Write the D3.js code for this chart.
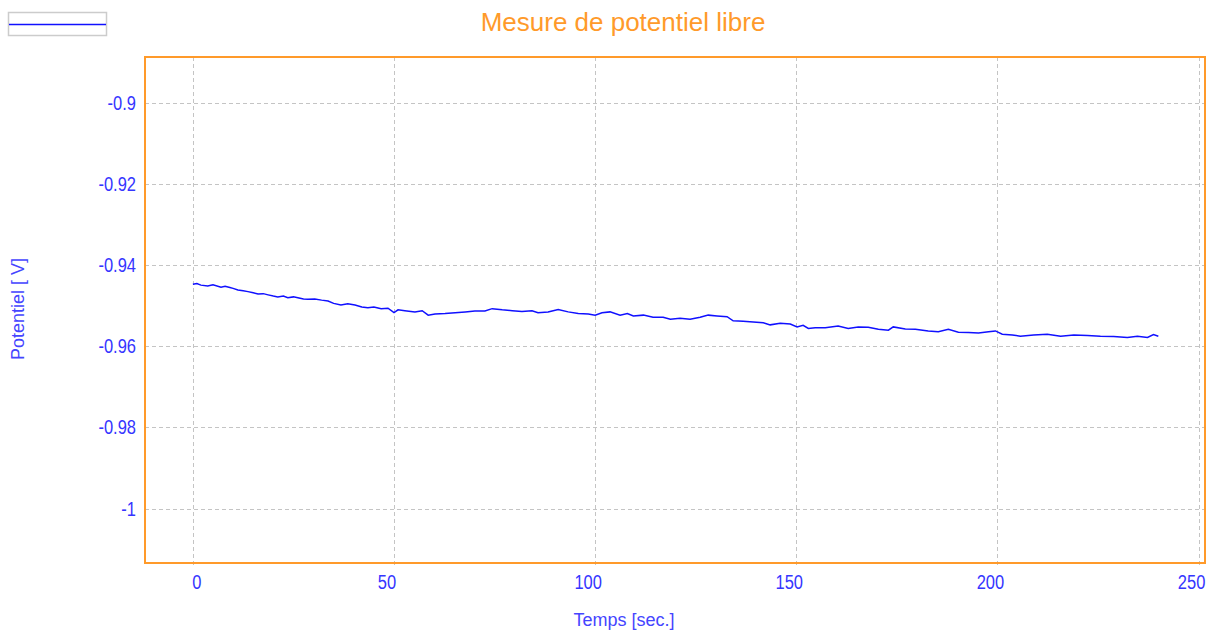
<!DOCTYPE html>
<html>
<head>
<meta charset="utf-8">
<script src="https://cdn.jsdelivr.net/npm/d3@7"></script>
<style>
    body { margin: 0; background: #ffffff; }
    svg { display: block; }
</style>
</head>
<body>
<div id="graphique"></div>
<script>
// ===============================
// Données de la mesure
// ===============================
const temps = [
    0, 1, 2, 3.7, 5, 7, 8, 9.2, 10, 11.2,
    12.5, 13.7, 15, 16.2, 17.5, 18.7, 20, 21.1, 22.5, 23.6,
    25, 26.1, 27.5, 28.6, 30.3, 32, 33.6, 35, 36.8, 38.5,
    40.3, 42, 43.5, 45, 46.8, 48.5, 50, 51, 52.7, 55.2,
    57, 58.5, 60.2, 62.7, 65.2, 67.7, 70.1, 72.6, 74.4, 76.9,
    79.4, 81.8, 84.3, 85.8, 88.3, 90.8, 93.3, 95.8, 98.3, 100,
    101.7, 103.7, 106.2, 108, 109.5, 112, 114.4, 116.9, 118.7, 121.1,
    123.6, 126.1, 128.1, 130.3, 132.8, 134.3, 136.8, 139.3, 141.8, 143.5,
    146, 148.5, 150.2, 151.7, 153, 154.7, 157.2, 160.4, 162.9, 165.4,
    167.9, 170.4, 172.9, 174.1, 177.1, 179.6, 182.8, 185.3, 187.8, 190.3,
    192.8, 195.3, 197.8, 199.5, 201.2, 203.7, 205.7, 209, 212.4, 215.7,
    219, 222.4, 225.6, 228.9, 232.3, 234.8, 237.3, 238.8, 240
];
const potentiel = [
    -0.9447, -0.9445, -0.9449, -0.9451, -0.9448, -0.9454, -0.9452, -0.9455, -0.9457, -0.9461,
    -0.9463, -0.9465, -0.9468, -0.9471, -0.9470, -0.9473, -0.9476, -0.9478, -0.9476, -0.9480,
    -0.9478, -0.9480, -0.9483, -0.9484, -0.9483, -0.9486, -0.9488, -0.9494, -0.9498, -0.9495,
    -0.9498, -0.9503, -0.9505, -0.9503, -0.9507, -0.9506, -0.9517, -0.9510, -0.9512, -0.9515,
    -0.9512, -0.9523, -0.9520, -0.9519, -0.9517, -0.9515, -0.9513, -0.9513, -0.9507, -0.9510,
    -0.9512, -0.9514, -0.9512, -0.9517, -0.9515, -0.9509, -0.9515, -0.9519, -0.9520, -0.9523,
    -0.9517, -0.9515, -0.9523, -0.9519, -0.9525, -0.9523, -0.9528, -0.9528, -0.9533, -0.9531,
    -0.9533, -0.9528, -0.9523, -0.9525, -0.9527, -0.9537, -0.9538, -0.9540, -0.9542, -0.9547,
    -0.9543, -0.9545, -0.9552, -0.9548, -0.9556, -0.9554, -0.9554, -0.9550, -0.9556, -0.9552,
    -0.9553, -0.9558, -0.9560, -0.9552, -0.9557, -0.9558, -0.9562, -0.9564, -0.9558, -0.9565,
    -0.9566, -0.9567, -0.9564, -0.9562, -0.9570, -0.9572, -0.9575, -0.9572, -0.9570, -0.9575,
    -0.9572, -0.9573, -0.9575, -0.9576, -0.9578, -0.9575, -0.9578, -0.9571, -0.9575
];
const ticksX = [0, 50, 100, 150, 200, 250];
const ticksY = [-0.9, -0.92, -0.94, -0.96, -0.98, -1];
const labelsY = ["-0.9", "-0.92", "-0.94", "-0.96", "-0.98", "-1"];

const titre = "Mesure de potentiel libre";
const titreX = "Temps [sec.]";
const titreY = "Potentiel [ V]";

// ===============================
// Dimensions et échelles
// ===============================
const largeur = 1211, hauteur = 630;
const cadre = { gauche: 145, droite: 1205, haut: 57, bas: 563 };

const couleurTexte = "#3535ff";
const couleurCadre = "#ff9a2a";
const police = "'Liberation Sans', Arial, sans-serif";

const x = d3.scaleLinear().domain([-11.9, 251.6]).range([cadre.gauche, cadre.droite]);
const y = d3.scaleLinear().domain([-1.01343, -0.88864]).range([cadre.bas, cadre.haut]);

const svg = d3.select("#graphique").append("svg")
    .attr("width", largeur)
    .attr("height", hauteur);

// Grille en pointillés
svg.append("g").selectAll("line").data(ticksX).join("line")
    .attr("x1", d => Math.round(x(d)) + 0.5).attr("x2", d => Math.round(x(d)) + 0.5)
    .attr("y1", cadre.haut).attr("y2", cadre.bas + 2)
    .attr("stroke", "#c4c4c4").attr("stroke-dasharray", "4,3");

svg.append("g").selectAll("line").data(ticksY).join("line")
    .attr("y1", d => Math.round(y(d)) + 0.5).attr("y2", d => Math.round(y(d)) + 0.5)
    .attr("x1", cadre.gauche).attr("x2", cadre.droite)
    .attr("stroke", "#c4c4c4").attr("stroke-dasharray", "4,3");

// Cadre orange
svg.append("rect")
    .attr("x", cadre.gauche).attr("y", cadre.haut)
    .attr("width", cadre.droite - cadre.gauche).attr("height", cadre.bas - cadre.haut)
    .attr("fill", "none").attr("stroke", couleurCadre).attr("stroke-width", 2);

// Courbe
const ligne = d3.line()
    .x(i => x(temps[i]))
    .y(i => y(potentiel[i]));

svg.append("path")
    .attr("d", ligne(d3.range(temps.length)))
    .attr("fill", "none")
    .attr("stroke", "#1010ff")
    .attr("stroke-width", 1.5);

// ===============================
// Textes des axes
// ===============================
// les chiffres de l'original sont étroits et hauts : on étire en hauteur
svg.append("g").selectAll("text").data(ticksX).join("text")
    .attr("transform", d => `translate(${d === 0 ? x(d) + 4 : x(d) - 7},589) scale(1,1.18)`)
    .attr("text-anchor", "middle")
    .attr("font-family", police).attr("font-size", 16.5)
    .attr("fill", couleurTexte)
    .text(d => d);

svg.append("g").selectAll("text").data(ticksY).join("text")
    .attr("transform", d => `translate(136,${y(d) + 7}) scale(1,1.18)`)
    .attr("text-anchor", "end")
    .attr("font-family", police).attr("font-size", 16.5)
    .attr("fill", couleurTexte)
    .text((d, i) => labelsY[i]);

svg.append("text")
    .attr("x", 624).attr("y", 626)
    .attr("text-anchor", "middle")
    .attr("font-family", police).attr("font-size", 18)
    .attr("fill", "#4545ff")
    .text(titreX);

svg.append("text")
    .attr("transform", "translate(24,309) rotate(-90)")
    .attr("text-anchor", "middle")
    .attr("font-family", police).attr("font-size", 18)
    .attr("fill", "#4545ff")
    .text(titreY);

// Titre
svg.append("text")
    .attr("x", 623).attr("y", 31)
    .attr("text-anchor", "middle")
    .attr("font-family", police).attr("font-size", 26)
    .attr("fill", "#ff9a2a")
    .text(titre);

// Légende (boîte vide avec le trait bleu)
svg.append("rect")
    .attr("x", 8.5).attr("y", 12.5).attr("width", 98).attr("height", 23)
    .attr("fill", "#ffffff").attr("stroke", "#cccccc").attr("stroke-width", 1.5);
svg.append("line")
    .attr("x1", 9).attr("x2", 106).attr("y1", 24.5).attr("y2", 24.5)
    .attr("stroke", "#1010ff").attr("stroke-width", 1.5);
</script>
</body>
</html>
